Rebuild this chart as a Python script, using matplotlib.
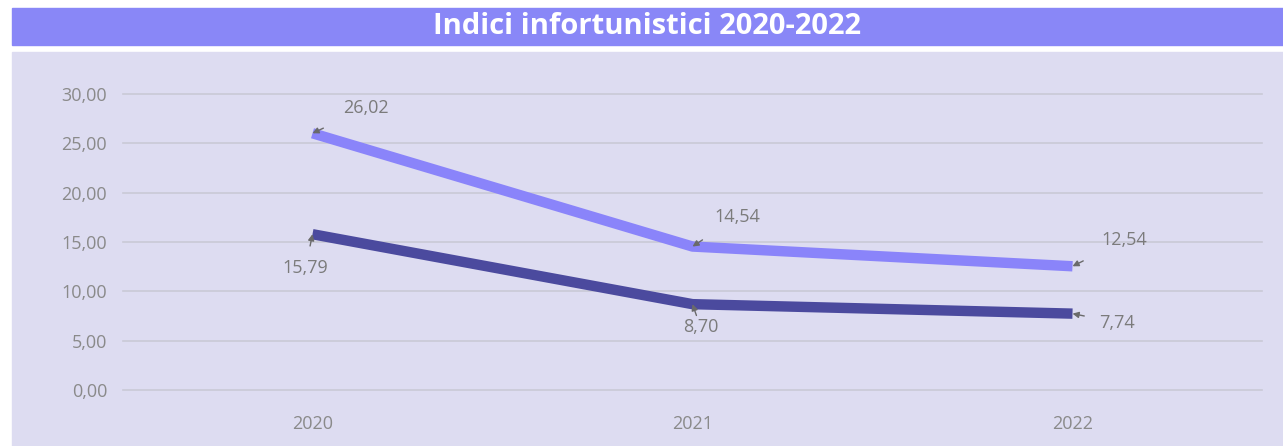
import matplotlib
matplotlib.use('Agg')
import matplotlib.pyplot as plt
from matplotlib.patches import Rectangle

years = ['2020', '2021', '2022']
serie_a = [26.02, 14.54, 12.54]
serie_b = [15.79, 8.70, 7.74]
y_ticks = [0, 5, 10, 15, 20, 25, 30]

# label offsets in pixels from each point
off_a = [(53, 25), (45, 30), (52, 26)]
off_b = [(-7, -34), (8, -23), (45, -9)]

W, H = 1283, 446
fig = plt.figure(figsize=(W / 100, H / 100), dpi=100, facecolor='white')

# title band and panel background (behind the axes)
fig.patches.append(Rectangle((12 / W, 1 - 45 / H), 1 - 12 / W, 37 / H,
                             transform=fig.transFigure, color='#8987f7', zorder=-2))
fig.patches.append(Rectangle((12 / W, 0), 1 - 12 / W, 1 - 52 / H,
                             transform=fig.transFigure, color='#dddcf1', zorder=-2))
fig.text(647 / W, 1 - 27 / H, 'Indici infortunistici 2020-2022', ha='center', va='center',
         color='white', fontsize=21, fontweight='bold',
         family=['Liberation Sans Narrow', 'Open Sans', 'DejaVu Sans'])

ax = fig.add_axes([122.5 / W, 1 - 390 / H, 1140 / W, 296 / H])
ax.set_facecolor('none')
ax.set_xlim(-0.5, 2.5)
ax.set_ylim(0, 30)
x = range(len(years))

for t in y_ticks:
    ax.axhline(t, color='#c9c9d6', lw=1.2, zorder=1, clip_on=False)

ax.plot(x, serie_a, color='#8a84fa', lw=7.5, solid_capstyle='butt', zorder=3)
ax.plot(x, serie_b, color='#4b4a9e', lw=7.5, solid_capstyle='butt', zorder=3)

lab_font = dict(fontsize=13, color='#7b7b7b', family=['Open Sans', 'DejaVu Sans'])
for vals, offs in ((serie_a, off_a), (serie_b, off_b)):
    for xi, v, (dx, dy) in zip(x, vals, offs):
        ax.annotate(f'{v:.2f}'.replace('.', ','), xy=(xi, v), xytext=(dx, dy),
                    textcoords='offset pixels', ha='center', va='center', zorder=5, **lab_font)
        n = (dx ** 2 + dy ** 2) ** 0.5
        ax.annotate('', xy=(xi, v), xytext=(12 * dx / n, 12 * dy / n),
                    textcoords='offset pixels', zorder=5,
                    arrowprops=dict(arrowstyle='-|>', color='#6a6a6a', lw=1,
                                    mutation_scale=9, shrinkA=0, shrinkB=0))

ax.set_xticks(list(x))
ax.set_xticklabels(years)
ax.set_yticks(y_ticks)
ax.set_yticklabels([f'{t:.2f}'.replace('.', ',') for t in y_ticks])
ax.tick_params(length=0, labelsize=13, labelcolor='#8a8a8a', pad=11)
for lbl in ax.get_xticklabels() + ax.get_yticklabels():
    lbl.set_family(['Open Sans', 'DejaVu Sans'])
ax.tick_params(axis='x', pad=18)
for s in ax.spines.values():
    s.set_visible(False)

fig.savefig('out.png', dpi=100, facecolor='white')
